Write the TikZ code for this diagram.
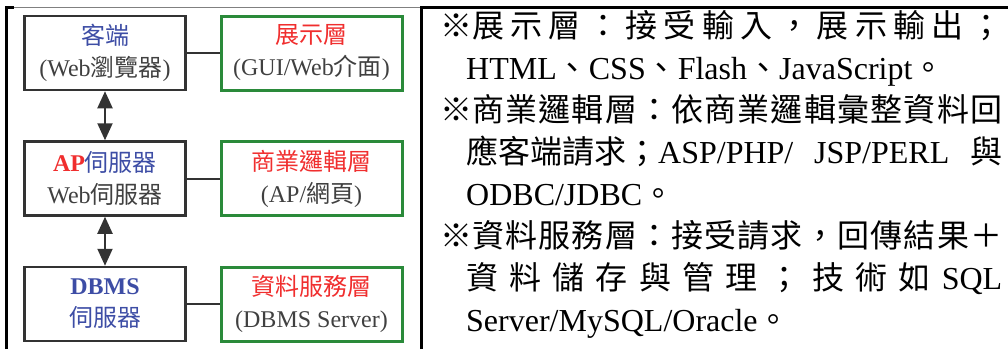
\documentclass[tikz,border=0pt]{standalone}
\usepackage{fontspec}
\setmainfont{Liberation Serif}
\newfontfamily\zh{Noto Sans CJK TC}
\usepackage{xcolor}
\usetikzlibrary{arrows.meta}
\definecolor{tierblue}{HTML}{3D4DA5}
\definecolor{layerred}{HTML}{F02E2E}
\definecolor{layergreen}{HTML}{2A8A3A}
\definecolor{labelgray}{HTML}{404040}
\definecolor{boxgray}{HTML}{333333}
\newcommand{\notespacing}{\spaceskip=0pt plus 1fil\relax}

\begin{document}
\begin{tikzpicture}[x=1pt,y=-1pt,
	tierbox/.style={draw=boxgray,line width=2.5pt,minimum width=161pt,
		minimum height=74pt,inner sep=0pt,align=center,text=labelgray,
		font=\fontsize{24}{32}\selectfont},
	layerbox/.style={tierbox,draw=layergreen,line width=3pt,minimum width=181pt},
	link/.style={draw=boxgray,line width=2pt},
	twoway/.style={link,
		arrows={Triangle[width=15pt,length=17pt]-Triangle[width=15pt,length=17pt]}},
	notes/.style={anchor=base west,inner sep=0pt,
		font=\fontsize{32}{42}\selectfont}]
		\useasboundingbox (0,0) rectangle (1008,349);

		\draw[line width=3pt] (6,349) -- (6,7) -- (14,7);
		\draw[gray,line width=1pt] (14,7) -- (421,7);
		\draw[line width=3pt] (421,349) -- (421,7) -- (1008,7);

		\node[tierbox] at (105,53) (client)
			{\textcolor{tierblue}{\zh 客端} \\
				(Web{\zh 瀏覽器})};
		\node[layerbox] at (311.5,53) (present)
			{\textcolor{layerred}{\zh 展示層} \\
				(GUI/Web{\zh 介面})};
		\node[tierbox] at (105,178.5) (ap-server)
			{\textcolor{layerred}{\bfseries AP}\textcolor{tierblue}{\zh 伺服器} \\
				Web{\zh 伺服器}};
		\node[layerbox] at (311.5,178.5) (logic)
			{\textcolor{layerred}{\zh 商業邏輯層} \\
				(AP/{\zh 網頁})};
		\node[tierbox] at (105,304) (db-server)
			{\textcolor{tierblue}{\bfseries DBMS} \\
				\textcolor{tierblue}{\zh 伺服器}};
		\node[layerbox] at (311.5,304) (data)
			{\textcolor{layerred}{\zh 資料服務層} \\
				(DBMS Server)};

		\draw[link] (client) -- (present);
		\draw[link] (ap-server) -- (logic);
		\draw[link] (db-server) -- (data);
		\draw[twoway] (client) -- (ap-server);
		\draw[twoway] (ap-server) -- (db-server);

		\node[notes] at (440,37) (note-1)
			{\notespacing\makebox[562pt][s]{\zh ※展 示 層 ： 接 受 輸 入 ， 展 示 輸 出 ；}};
		\node[notes] at (466,79) (note-2)
			{HTML{\zh 、}CSS{\zh 、}Flash{\zh 、}JavaScript{\zh 。}};
		\node[notes] at (440,121) (note-3)
			{\notespacing\makebox[562pt][s]{\zh ※商 業 邏 輯 層 ： 依 商 業 邏 輯 彙 整 資 料 回}};
		\node[notes] at (466,163) (note-4)
			{\notespacing\makebox[536pt][s]{{\zh 應客端請求；}ASP/PHP/ JSP/PERL {\zh 與}}};
		\node[notes] at (466,205) (note-5)
			{ODBC/JDBC{\zh 。}};
		\node[notes] at (440,247) (note-6)
			{\notespacing\makebox[562pt][s]{\zh ※資 料 服 務 層 ： 接 受 請 求 ， 回 傳 結 果 ＋}};
		\node[notes] at (466,289) (note-7)
			{\notespacing\makebox[536pt][s]{{\zh 資 料 儲 存 與 管 理 ； 技 術 如} SQL}};
		\node[notes] at (466,331) (note-8)
			{Server/MySQL/Oracle{\zh 。}};
	\end{tikzpicture}
\end{document}
